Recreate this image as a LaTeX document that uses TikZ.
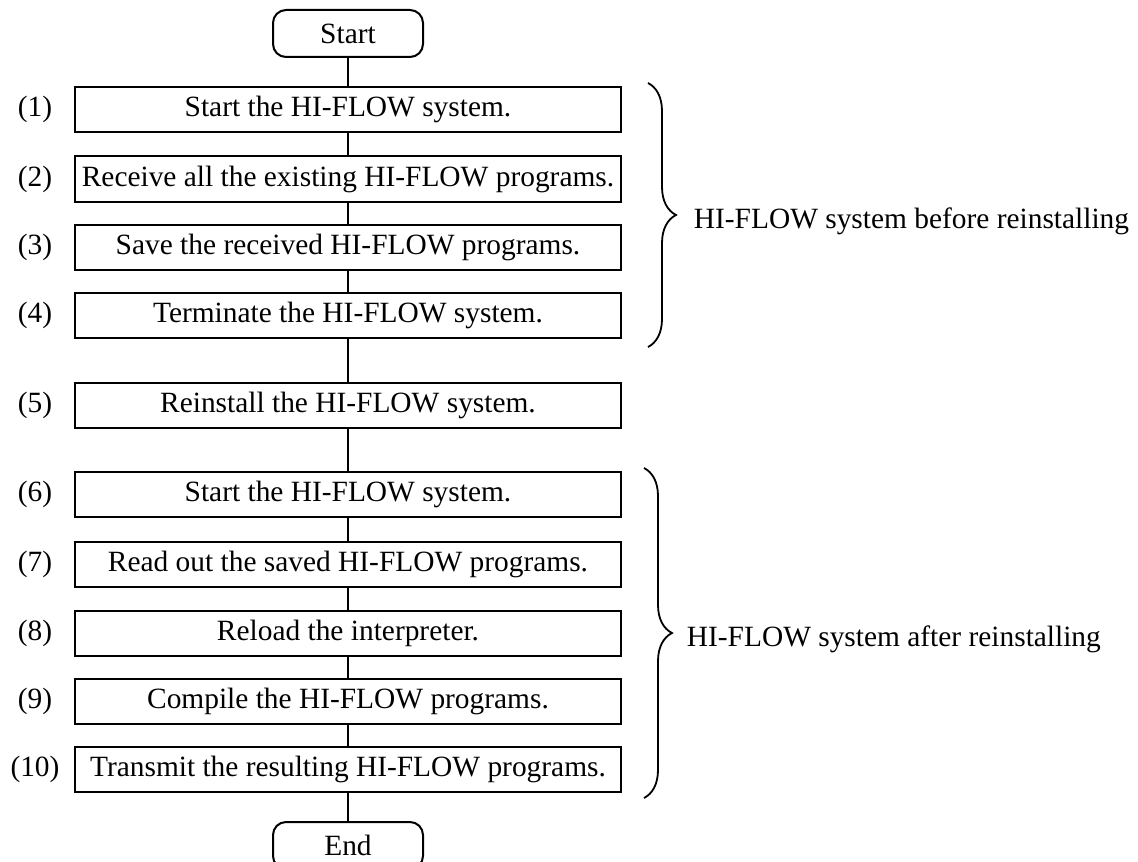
\documentclass[tikz,border=0pt]{standalone}
\usepackage{fontspec}
\setmainfont{Liberation Serif}
\usetikzlibrary{decorations.pathreplacing}

\begin{document}
\begin{tikzpicture}[
    x = 0.5pt,
    y = -0.5pt,
    line width=1pt,
    font=\fontsize{14.7pt}{17pt}\selectfont,
    process/.style = {draw, rectangle, minimum width=273pt, minimum height=22.5pt,
    inner sep=0pt, outer sep=0pt},
    terminal/.style = {draw, rectangle, rounded corners=6.5pt, minimum width=75pt,
    minimum height=23.5pt, inner sep=0pt, outer sep=0pt},
    steplabel/.style = {inner sep=0pt},
    bracetext/.style = {anchor=west, inner sep=0pt, yshift=-3pt},
]

\useasboundingbox (0,0) rectangle (1138,861);

\node[terminal] (start) at (348,33.5){Start};
\node[process] (step_1) at (348,109.5){Start the HI-FLOW system.};
\node[process] (step_2) at (348,179){Receive all the existing HI-FLOW programs.};
\node[process] (step_3) at (348,247){Save the received HI-FLOW programs.};
\node[process] (step_4) at (348,315.5){Terminate the HI-FLOW system.};
\node[process] (step_5) at (348,405.5){Reinstall the HI-FLOW system.};
\node[process] (step_6) at (348,494.5){Start the HI-FLOW system.};
\node[process] (step_7) at (348,564){Read out the saved HI-FLOW programs.};
\node[process] (step_8) at (348,633){Reload the interpreter.};
\node[process] (step_9) at (348,701.5){Compile the HI-FLOW programs.};
\node[process] (step_10) at (348,769.5){Transmit the resulting HI-FLOW programs.};
\node[terminal] (end) at (348,845.5){End};

\node[steplabel] (label_1) at (35,109.5){(1)};
\node[steplabel] (label_2) at (35,179){(2)};
\node[steplabel] (label_3) at (35,247){(3)};
\node[steplabel] (label_4) at (35,315.5){(4)};
\node[steplabel] (label_5) at (35,405.5){(5)};
\node[steplabel] (label_6) at (35,494.5){(6)};
\node[steplabel] (label_7) at (35,564){(7)};
\node[steplabel] (label_8) at (35,633){(8)};
\node[steplabel] (label_9) at (35,701.5){(9)};
\node[steplabel] (label_10) at (35,769.5){(10)};

\draw (start) -- (step_1);
\draw (step_1) -- (step_2);
\draw (step_2) -- (step_3);
\draw (step_3) -- (step_4);
\draw (step_4) -- (step_5);
\draw (step_5) -- (step_6);
\draw (step_6) -- (step_7);
\draw (step_7) -- (step_8);
\draw (step_8) -- (step_9);
\draw (step_9) -- (step_10);
\draw (step_10) -- (end);

% braces on the right
\coordinate (before_top) at ([xshift=13.5pt, yshift=2pt]step_1.north east);
\coordinate (before_bot) at ([xshift=13.5pt, yshift=-4.5pt]step_4.south east);
\coordinate (after_top) at ([xshift=11.5pt, yshift=2pt]step_6.north east);
\coordinate (after_bot) at ([xshift=11.5pt, yshift=-3pt]step_10.south east);

\draw [line width=0.9pt, decorate, decoration={brace, amplitude=14pt}] (before_top) -- (before_bot)
    node [midway, bracetext, xshift=22.5pt] (before) {HI-FLOW system before reinstalling};
\draw [line width=0.9pt, decorate, decoration={brace, amplitude=14pt}] (after_top) -- (after_bot)
    node [midway, bracetext, xshift=21pt] (after) {HI-FLOW system after reinstalling};

\end{tikzpicture}
\end{document}
